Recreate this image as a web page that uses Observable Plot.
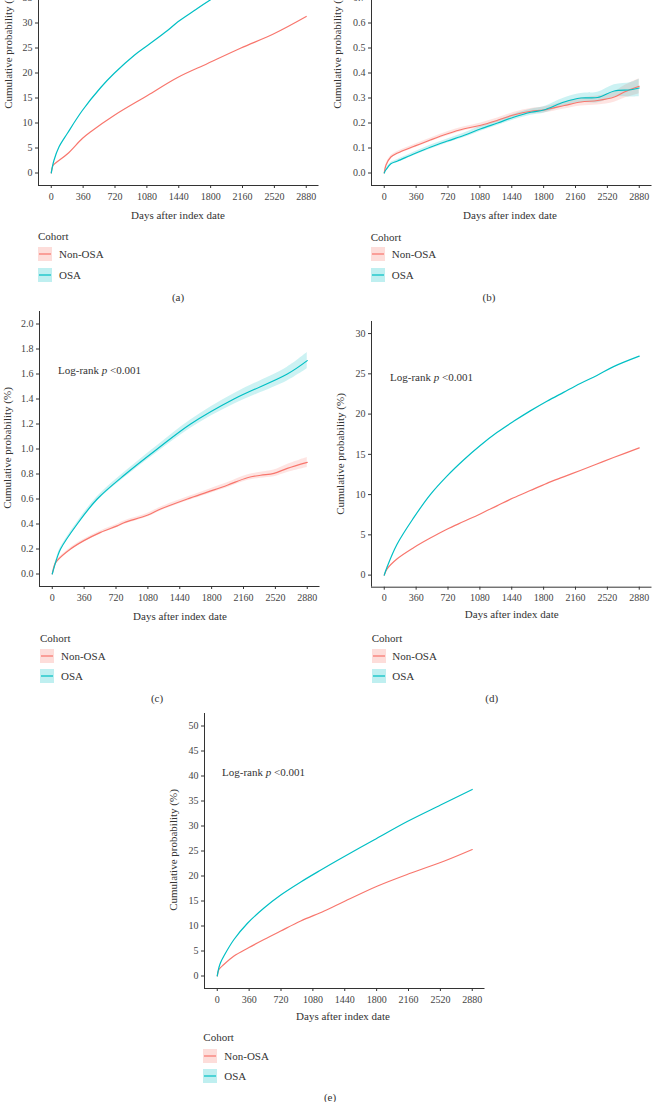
<!DOCTYPE html>
<html><head><meta charset="utf-8">
<script src="https://cdn.jsdelivr.net/npm/d3@7"></script>
<script src="https://cdn.jsdelivr.net/npm/@observablehq/plot@0.6"></script>
<style>
html,body{margin:0;padding:0;background:#fff;overflow:hidden}
#page{position:relative;width:652px;height:1102px;overflow:hidden;font-family:"Liberation Serif","Times New Roman",serif;color:#333;background:#fff}
.abs{position:absolute;white-space:nowrap;line-height:1}
</style></head><body><div id="page"></div>
<script>
// ---------- data ----------
const cohorts = ["Non-OSA", "OSA"];
const colors = ["#F8766D", "#00BFC4"];
const xTicks = [0, 360, 720, 1080, 1440, 1800, 2160, 2520, 2880];

// panel (a)
const aNonDays = [0, 20, 49, 181, 351, 450, 709, 1087, 1427, 1766, 2143, 2520, 2880];
const aNonVals = [0, 1.5, 2.0, 3.8, 6.9, 8.3, 11.5, 15.5, 19.1, 21.9, 25.0, 27.9, 31.3];
const aOsaDays = [0, 30, 87, 181, 351, 559, 709, 935, 1087, 1313, 1427, 1616, 1786, 2160, 2520, 2880];
const aOsaVals = [0, 2.5, 5.2, 7.9, 12.5, 17.1, 19.9, 23.5, 25.5, 28.5, 30.2, 32.5, 34.5, 38.5, 42.0, 45.0];
const aYTicks = [0, 5, 10, 15, 20, 25, 30, 35, 40, 45, 50];

// panel (b)
const bNonDays = [0, 19, 75, 151, 339, 527, 715, 904, 1092, 1280, 1469, 1657, 1800, 2033, 2222, 2410, 2598, 2711, 2880];
const bNonVals = [0, 0.031, 0.064, 0.080, 0.107, 0.133, 0.157, 0.177, 0.191, 0.211, 0.233, 0.247, 0.252, 0.270, 0.284, 0.290, 0.304, 0.324, 0.347];
const bNonCI   = [0, 0.003, 0.005, 0.006, 0.007, 0.007, 0.008, 0.008, 0.009, 0.009, 0.010, 0.011, 0.012, 0.014, 0.016, 0.018, 0.021, 0.025, 0.030];
const bOsaDays = [0, 19, 75, 151, 339, 527, 715, 904, 1092, 1280, 1469, 1657, 1800, 2033, 2222, 2410, 2598, 2787, 2880];
const bOsaVals = [0, 0.013, 0.037, 0.048, 0.077, 0.104, 0.128, 0.151, 0.177, 0.200, 0.224, 0.243, 0.252, 0.284, 0.300, 0.302, 0.328, 0.333, 0.340];
const bOsaCI   = [0, 0.003, 0.005, 0.006, 0.007, 0.008, 0.008, 0.009, 0.010, 0.010, 0.011, 0.012, 0.013, 0.016, 0.018, 0.021, 0.025, 0.029, 0.035];
const bYTicks = [0, 0.1, 0.2, 0.3, 0.4, 0.5, 0.6, 0.7, 0.8, 0.9, 1.0];

// panel (c)
const cNonDays = [0, 30, 56, 207, 358, 546, 734, 810, 1073, 1224, 1525, 1751, 1977, 2203, 2353, 2504, 2655, 2880];
const cNonVals = [0, 0.08, 0.107, 0.20, 0.267, 0.333, 0.385, 0.41, 0.47, 0.52, 0.60, 0.655, 0.71, 0.77, 0.79, 0.805, 0.845, 0.893];
const cNonCI   = [0, 0.006, 0.008, 0.010, 0.011, 0.012, 0.013, 0.014, 0.014, 0.015, 0.016, 0.018, 0.020, 0.022, 0.024, 0.027, 0.032, 0.040];
const cOsaDays = [0, 56, 94, 282, 508, 829, 1186, 1563, 2052, 2655, 2880];
const cOsaVals = [0, 0.133, 0.20, 0.40, 0.60, 0.80, 1.00, 1.20, 1.40, 1.60, 1.707];
const cOsaCI   = [0, 0.010, 0.012, 0.015, 0.018, 0.022, 0.027, 0.033, 0.042, 0.055, 0.065];
const cYTicks = [0, 0.2, 0.4, 0.6, 0.8, 1.0, 1.2, 1.4, 1.6, 1.8, 2.0];

// panel (d)
const dNonDays = [0, 30, 143, 331, 520, 708, 896, 1084, 1272, 1461, 1649, 1837, 2025, 2214, 2402, 2590, 2880];
const dNonVals = [0, 0.74, 2.0, 3.4, 4.6, 5.7, 6.65, 7.6, 8.6, 9.6, 10.5, 11.4, 12.2, 13.0, 13.8, 14.6, 15.8];
const dOsaDays = [0, 30, 143, 331, 520, 708, 896, 1084, 1272, 1461, 1649, 1837, 2025, 2214, 2402, 2590, 2880];
const dOsaVals = [0, 0.95, 3.8, 7.1, 10.0, 12.3, 14.3, 16.1, 17.7, 19.1, 20.4, 21.6, 22.7, 23.8, 24.8, 25.9, 27.2];
const dYTicks = [0, 5, 10, 15, 20, 25, 30];

// panel (e)
const eNonDays = [0, 19, 75, 189, 358, 528, 717, 943, 1208, 1434, 1811, 2189, 2566, 2880];
const eNonVals = [0, 1.3, 2.3, 4.0, 5.7, 7.3, 9.0, 11.0, 13.0, 14.9, 18.0, 20.6, 23.0, 25.3];
const eOsaDays = [0, 19, 38, 75, 189, 339, 528, 717, 943, 1170, 1355, 1769, 2146, 2522, 2880];
const eOsaVals = [0, 1.7, 2.7, 4.0, 7.3, 10.5, 13.6, 16.2, 18.8, 21.2, 23.1, 27.2, 30.9, 34.2, 37.3];
const eYTicks = [0, 5, 10, 15, 20, 25, 30, 35, 40, 45, 50];

const fmtInt = d => String(d);
const fmt1 = d => d.toFixed(1);

const panels = [
  {tag:"(a)", fl:38, ft:-89.8, fh:275, ydom:[-2.5,52.5], yticks:aYTicks, fmt:fmtInt,
   series:[{days:aNonDays, vals:aNonVals},{days:aOsaDays, vals:aOsaVals}],
   xlab:[178,215], ylabX:8.3, leg:{x:38, cy:236, k1:254, k2:275, tx:59}, tagPos:[178,297], lr:null},
  {tag:"(b)", fl:370.6, ft:-89.8, fh:275, ydom:[-0.05,1.05], yticks:bYTicks, fmt:fmt1,
   series:[{days:bNonDays, vals:bNonVals, ci:bNonCI},{days:bOsaDays, vals:bOsaVals, ci:bOsaCI}],
   xlab:[510,215], ylabX:336.7, leg:{x:370.7, cy:236.5, k1:254, k2:275, tx:391.7}, tagPos:[489,297], lr:null},
  {tag:"(c)", fl:39, ft:310.8, fh:275, ydom:[-0.1,2.1], yticks:cYTicks, fmt:fmt1,
   series:[{days:cNonDays, vals:cNonVals, ci:cNonCI},{days:cOsaDays, vals:cOsaVals, ci:cOsaCI}],
   xlab:[180,616], ylabX:6.7, leg:{x:40, cy:638, k1:655.5, k2:676.3, tx:61}, tagPos:[157,698], lr:[58,370]},
  {tag:"(d)", fl:371.3, ft:320.7, fh:265.7, ydom:[-1.5,31.5], yticks:dYTicks, fmt:fmtInt,
   series:[{days:dNonDays, vals:dNonVals},{days:dOsaDays, vals:dOsaVals}],
   xlab:[511.7,614], ylabX:340, leg:{x:371.7, cy:638, k1:655.5, k2:676.3, tx:392.3}, tagPos:[491.7,697.7], lr:[390,377]},
  {tag:"(e)", fl:204, ft:712.5, fh:275, ydom:[-2.5,52.5], yticks:eYTicks, fmt:fmtInt,
   series:[{days:eNonDays, vals:eNonVals},{days:eOsaDays, vals:eOsaVals}],
   xlab:[343,1016], ylabX:173.3, leg:{x:203.3, cy:1037, k1:1055.5, k2:1075.5, tx:224.3}, tagPos:[330,1096.7], lr:[222,771.7]}
];

const page = document.getElementById("page");
const FW = 280.5;

function addText(html, x, y, opts = {}) {
  const d = document.createElement("div");
  d.className = "abs";
  d.innerHTML = html;
  d.style.left = x + "px";
  d.style.top = y + "px";
  d.style.fontSize = (opts.size || 11) + "px";
  d.style.color = opts.color || "#333";
  let t = opts.center ? "translate(-50%,-50%)" : "translate(0,-50%)";
  if (opts.rotate) t += " rotate(-90deg)";
  d.style.transform = t;
  page.appendChild(d);
  return d;
}

function keySwatch(x, cy, color) {
  const ns = "http://www.w3.org/2000/svg";
  const s = document.createElementNS(ns, "svg");
  s.setAttribute("width", 14); s.setAttribute("height", 14);
  s.style.position = "absolute"; s.style.left = x + "px"; s.style.top = (cy - 7) + "px";
  const r = document.createElementNS(ns, "rect");
  r.setAttribute("width", 14); r.setAttribute("height", 14);
  r.setAttribute("fill", color); r.setAttribute("fill-opacity", 0.25);
  const l = document.createElementNS(ns, "line");
  l.setAttribute("x1", 1); l.setAttribute("x2", 13); l.setAttribute("y1", 7); l.setAttribute("y2", 7);
  l.setAttribute("stroke", color); l.setAttribute("stroke-width", 1.2);
  s.appendChild(r); s.appendChild(l);
  page.appendChild(s);
}

for (const p of panels) {
  const mL = 40, mR = 8, mT = 6, mB = 28;
  const W = FW + mL + mR, H = p.fh + mT + mB;
  const marks = [];
  const rows = p.series.map((s, k) => s.days.map((d, i) => ({
    x: d, y: s.vals[i], cohort: cohorts[k],
    lo: s.ci ? Math.max(0, s.vals[i] - s.ci[i]) : null,
    hi: s.ci ? s.vals[i] + s.ci[i] : null
  })));
  const curve = "catmull-rom";
  rows.forEach((data, k) => {
    if (p.series[k].ci) marks.push(Plot.areaY(data, {x: "x", y1: "lo", y2: "hi", fill: colors[k], fillOpacity: 0.2, curve}));
  });
  rows.forEach((data, k) => {
    marks.push(Plot.lineY(data, {x: "x", y: "y", stroke: colors[k], strokeWidth: 1.2, curve}));
  });
  marks.push(Plot.ruleX([-144], {stroke: "#333", strokeWidth: 1}));
  marks.push(Plot.ruleY([p.ydom[0]], {stroke: "#333", strokeWidth: 1}));
  marks.push(Plot.axisY(p.yticks, {tickSize: 3, tickPadding: 3, tickFormat: p.fmt, label: null, stroke: "#333", fill: "#444"}));
  marks.push(Plot.axisX(xTicks, {tickSize: 3, tickPadding: 4, tickFormat: fmtInt, label: null, stroke: "#333", fill: "#444"}));
  const chart = Plot.plot({
    width: W, height: H, marginLeft: mL, marginRight: mR, marginTop: mT, marginBottom: mB,
    x: {domain: [-144, 3024]}, y: {domain: p.ydom},
    style: {fontFamily: "'Liberation Serif', 'Times New Roman', serif", fontSize: "10px", color: "#333", background: "transparent", overflow: "visible"},
    marks
  });
  chart.style.position = "absolute";
  chart.style.left = (p.fl - mL) + "px";
  chart.style.top = (p.ft - mT) + "px";
  page.appendChild(chart);

  addText("Days after index date", p.xlab[0], p.xlab[1], {center: true});
  addText("Cumulative probability (%)", p.ylabX, p.ft + p.fh / 2, {center: true, rotate: true});
  addText("Cohort", p.leg.x, p.leg.cy);
  keySwatch(p.leg.x, p.leg.k1, colors[0]);
  keySwatch(p.leg.x, p.leg.k2, colors[1]);
  addText(cohorts[0], p.leg.tx, p.leg.k1);
  addText(cohorts[1], p.leg.tx, p.leg.k2);
  addText(p.tag, p.tagPos[0], p.tagPos[1], {center: true});
  if (p.lr) addText("Log-rank <i>p</i> &lt;0.001", p.lr[0], p.lr[1]);
}
</script></body></html>
